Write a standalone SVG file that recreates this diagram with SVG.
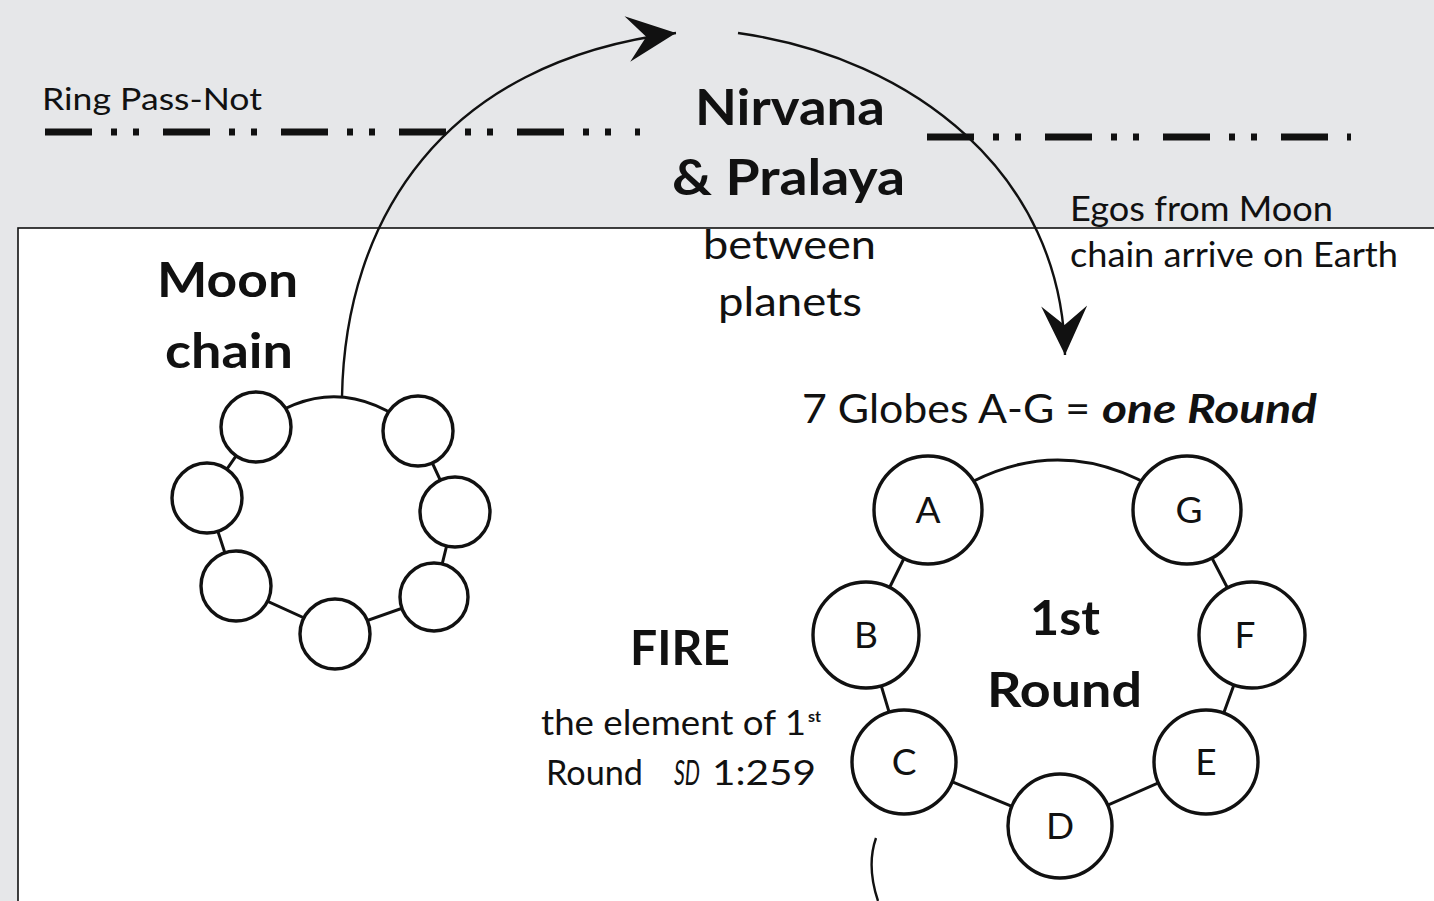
<svg xmlns="http://www.w3.org/2000/svg" width="1434" height="901" viewBox="0 0 1434 901">
<style>
text{font-family:Lato,"Open Sans","Liberation Sans",sans-serif;fill:#111}
.b{font-weight:bold}
.bi{font-weight:bold;font-style:italic}
.it{font-style:italic}
.globe{fill:#fff;stroke:#111;stroke-width:3.4}
.lbl{font-size:37px;text-anchor:middle}
.ring{fill:none;stroke:#111;stroke-width:3}
.arc{fill:none;stroke:#111;stroke-width:2.4}
.rpn{fill:none;stroke:#111;stroke-width:7;stroke-dasharray:47 19 6 16 6 24}
</style>
<defs>
<marker id="ah" markerUnits="userSpaceOnUse" markerWidth="56" markerHeight="50" viewBox="-51 -25 56 50" refX="0" refY="0" orient="auto">
<path d="M0,0 L-49,-23 L-30,0 L-49,23 Z" fill="#111"/>
</marker>
</defs>
<rect x="0" y="0" width="1434" height="901" fill="#e6e7e9"/>
<rect x="18" y="228" width="1430" height="690" fill="#fff" stroke="#111" stroke-width="1.6"/>

<g id="ring-pass-not">
<line class="rpn" x1="45" y1="132" x2="640" y2="132"/>
<line class="rpn" x1="927" y1="137" x2="1351" y2="137"/>
<text x="42" y="110" font-size="31" textLength="220" lengthAdjust="spacingAndGlyphs">Ring Pass-Not</text>
</g>

<g id="connectors">
<path class="arc" d="M342,397 C345,220 442,62 676,33" marker-end="url(#ah)"/>
<path class="arc" d="M738,33 C915,58 1062,175 1065,355" marker-end="url(#ah)"/>
<path class="arc" d="M876,838 C869,858 871,880 878,901" stroke-width="3"/>
<path class="ring" d="M256,427 Q337,364 418,432 L455,512 L434,597 L335,632 L236,587 L207,498 Z"/>
<path class="ring" d="M928,510 Q1058,410 1187,510 L1252,635 L1206,762 L1060,826 L904,762 L866,635 Z"/>
</g>

<g id="nirvana">
<text class="b" x="695" y="125" font-size="50" textLength="190" lengthAdjust="spacingAndGlyphs">Nirvana</text>
<text class="b" x="672" y="195" font-size="50" textLength="233" lengthAdjust="spacingAndGlyphs">&amp; Pralaya</text>
<text x="703" y="259" font-size="40" textLength="173" lengthAdjust="spacingAndGlyphs">between</text>
<text x="718" y="316" font-size="40" textLength="144" lengthAdjust="spacingAndGlyphs">planets</text>
</g>

<g id="egos-label">
<text x="1070" y="221" font-size="34" textLength="263" lengthAdjust="spacingAndGlyphs">Egos from Moon</text>
<text x="1070" y="267" font-size="34" textLength="328" lengthAdjust="spacingAndGlyphs">chain arrive on Earth</text>
</g>

<g id="moon-chain">
<text class="b" x="157" y="297" font-size="48" textLength="141" lengthAdjust="spacingAndGlyphs">Moon</text>
<text class="b" x="165" y="368" font-size="48" textLength="128" lengthAdjust="spacingAndGlyphs">chain</text>
</g>
<g id="moon-1"><circle class="globe" cx="256" cy="427" r="35"/></g>
<g id="moon-2"><circle class="globe" cx="418" cy="431" r="35"/></g>
<g id="moon-3"><circle class="globe" cx="207" cy="498" r="35"/></g>
<g id="moon-4"><circle class="globe" cx="455" cy="512" r="35"/></g>
<g id="moon-5"><circle class="globe" cx="236" cy="586" r="35"/></g>
<g id="moon-6"><circle class="globe" cx="434" cy="597" r="34"/></g>
<g id="moon-7"><circle class="globe" cx="335" cy="634" r="35"/></g>

<g id="globes-title">
<text x="802" y="423" font-size="40" textLength="288" lengthAdjust="spacingAndGlyphs">7 Globes A-G =</text>
<text class="bi" x="1102" y="423" font-size="40" textLength="215" lengthAdjust="spacingAndGlyphs">one Round</text>
</g>

<g id="globe-A"><circle class="globe" cx="928" cy="510" r="54"/><text class="lbl" x="928" y="523">A</text></g>
<g id="globe-G"><circle class="globe" cx="1187" cy="510" r="54"/><text class="lbl" x="1189" y="523">G</text></g>
<g id="globe-B"><circle class="globe" cx="866" cy="635" r="53"/><text class="lbl" x="866" y="648">B</text></g>
<g id="globe-F"><circle class="globe" cx="1252" cy="635" r="53"/><text class="lbl" x="1245" y="648">F</text></g>
<g id="globe-C"><circle class="globe" cx="904" cy="762" r="52"/><text class="lbl" x="904" y="775">C</text></g>
<g id="globe-E"><circle class="globe" cx="1206" cy="762" r="52"/><text class="lbl" x="1206" y="775">E</text></g>
<g id="globe-D"><circle class="globe" cx="1060" cy="826" r="52"/><text class="lbl" x="1060" y="839">D</text></g>

<g id="round-label">
<text class="b" x="1030" y="635" font-size="48" textLength="70" lengthAdjust="spacingAndGlyphs">1st</text>
<text class="b" x="987" y="707" font-size="48" textLength="155" lengthAdjust="spacingAndGlyphs">Round</text>
</g>

<g id="fire">
<text class="b" x="630" y="665" font-size="48" textLength="100" lengthAdjust="spacingAndGlyphs">FIRE</text>
<text x="541" y="735" font-size="34" textLength="265" lengthAdjust="spacingAndGlyphs">the element of 1</text>
<text class="b" x="808" y="722" font-size="15" textLength="13" lengthAdjust="spacingAndGlyphs">st</text>
<text x="546" y="785" font-size="34" textLength="97" lengthAdjust="spacingAndGlyphs">Round</text>
<text class="it" x="674" y="785" font-size="34" textLength="26" lengthAdjust="spacingAndGlyphs">SD</text>
<text x="712" y="785" font-size="34" textLength="104" lengthAdjust="spacingAndGlyphs">1:259</text>
</g>
</svg>
